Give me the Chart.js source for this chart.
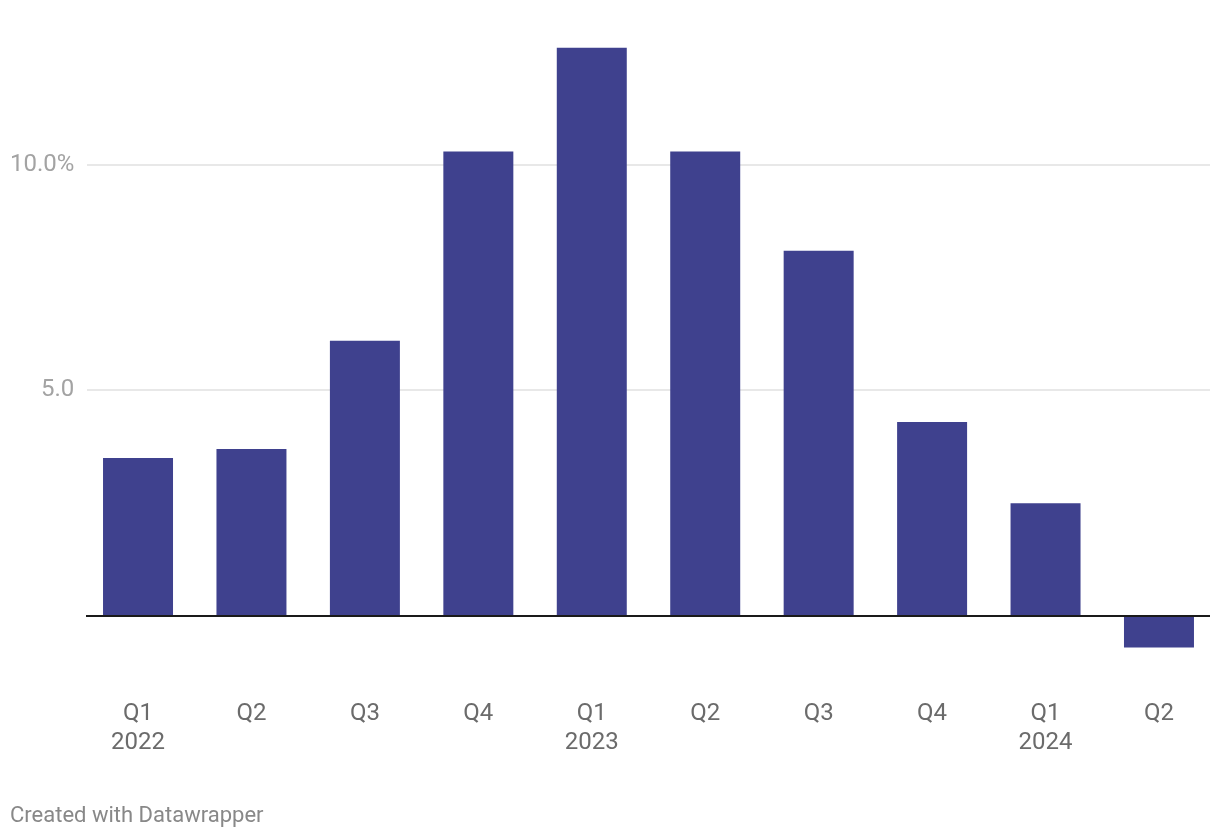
<!DOCTYPE html>
<html>
<head>
<meta charset="utf-8">
<script src="https://cdn.jsdelivr.net/npm/chart.js@4.4.1/dist/chart.umd.min.js"></script>
<style>
  html, body { margin: 0; padding: 0; background: #ffffff; }
  #wrap { position: relative; width: 1220px; height: 838px; }
  #c { position: absolute; left: 0; top: 0; }
  #footer { position: absolute; left: 10px; top: 802px; font-family: Roboto, sans-serif; font-size: 22px; line-height: 26px; color: #888888; }
</style>
</head>
<body>
<div id="wrap">
  <canvas id="c" width="1220" height="838"></canvas>
  <div id="footer">Created with Datawrapper</div>
</div>
<script>
const quarters = ['Q1','Q2','Q3','Q4','Q1','Q2','Q3','Q4','Q1','Q2'];
const years    = ['2022','','','','2023','','','','2024',''];
const values   = [3.5, 3.7, 6.1, 10.3, 12.6, 10.3, 8.1, 4.3, 2.5, -0.7];
const yTickValues = [0, 5, 10];
const yTickLabels = ['', '5.0', '10.0%'];

const labels = quarters.map((q, i) => years[i] ? [q, years[i]] : [q, '']);

const gridPlugin = {
  id: 'dwGrid',
  beforeDatasetsDraw(chart) {
    const { ctx, chartArea, scales } = chart;
    const inset = 5.7;
    ctx.save();
    yTickValues.forEach(v => {
      if (v === 0) return;
      const y = Math.round(scales.y.getPixelForValue(v));
      ctx.strokeStyle = '#e8e8e8';
      ctx.lineWidth = 2;
      ctx.beginPath();
      ctx.moveTo(chartArea.left + inset, y);
      ctx.lineTo(chartArea.right - inset, y);
      ctx.stroke();
    });
    ctx.restore();
  },
  afterDatasetsDraw(chart) {
    const { ctx, chartArea, scales } = chart;
    const inset = 5.7;
    const y = Math.round(scales.y.getPixelForValue(0));
    ctx.save();
    ctx.strokeStyle = '#1a1a1a';
    ctx.lineWidth = 2;
    ctx.beginPath();
    ctx.moveTo(chartArea.left + inset - 1, y);
    ctx.lineTo(chartArea.right - inset, y);
    ctx.stroke();
    ctx.restore();
  }
};

new Chart(document.getElementById('c'), {
  type: 'bar',
  data: {
    labels: labels,
    datasets: [{
      data: values,
      backgroundColor: '#3f418e',
      borderWidth: 0,
      barPercentage: 0.617,
      categoryPercentage: 1.0
    }]
  },
  options: {
    responsive: false,
    animation: false,
    devicePixelRatio: 1,
    layout: { padding: { top: 29.65, right: 4.3, bottom: 74.4, left: 0 } },
    plugins: {
      legend: { display: false },
      tooltip: { enabled: false },
      title: { display: false }
    },
    scales: {
      x: {
        offset: true,
        grid: { display: false, drawTicks: false },
        border: { display: false },
        afterFit(scale) { scale.height = 80; },
        ticks: {
          autoSkip: false,
          maxRotation: 0,
          minRotation: 0,
          padding: 16,
          color: '#6b6b6b',
          font: { family: 'Roboto', size: 24, lineHeight: 1.2 }
        }
      },
      y: {
        min: -1.5,
        max: 13,
        grid: { display: false, drawTicks: false },
        border: { display: false },
        afterFit(scale) { scale.width = 81.3; },
        afterBuildTicks(scale) { scale.ticks = yTickValues.map(v => ({ value: v })); },
        ticks: {
          padding: 7,
          color: '#a3a3a3',
          font: { family: 'Roboto', size: 24 },
          callback(value) {
            const i = yTickValues.indexOf(value);
            return i >= 0 ? yTickLabels[i] : '';
          }
        }
      }
    }
  },
  plugins: [gridPlugin]
});
</script>
</body>
</html>
